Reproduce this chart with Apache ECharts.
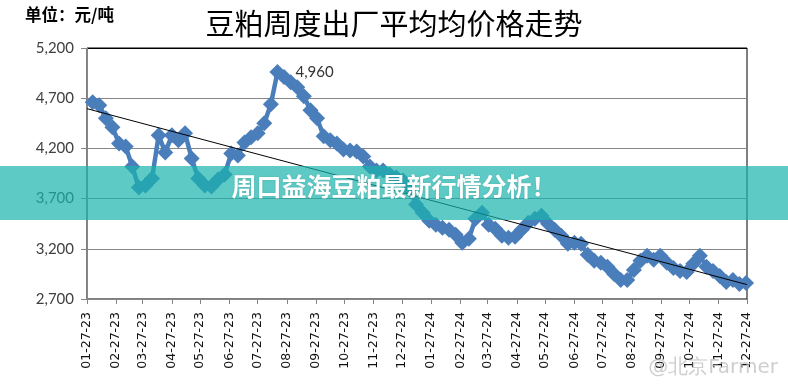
<!DOCTYPE html>
<html>
<head>
<meta charset="utf-8">
<script src="https://cdn.jsdelivr.net/npm/echarts@6/dist/echarts.min.js"></script>
<style>
html,body{margin:0;padding:0;background:#fff;}
#c{width:788px;height:387px;}
</style>
</head>
<body>
<div id="c"></div>
<script>
const titleText = '豆粕周度出厂平均均价格走势';
const unitText = '单位：元/吨';
const bannerText = '周口益海豆粕最新行情分析！';
const watermarkText = '@北京Farmer';

const tickLabels = ['01-27-23','02-27-23','03-27-23','04-27-23','05-27-23','06-27-23',
  '07-27-23','08-27-23','09-27-23','10-27-23','11-27-23','12-27-23',
  '01-27-24','02-27-24','03-27-24','04-27-24','05-27-24','06-27-24',
  '07-27-24','08-27-24','09-27-24','10-27-24','11-27-24','12-27-24'];
const yTicks = [2700, 3200, 3700, 4200, 4700, 5200];

// weekly prices (元/吨), first week 2023-02-02
const firstWeek = '2023-02-02';
const prices = [
  4660,4630,4500,4410,4250,4220,4020,3810,3830,3900,
  4330,4160,4330,4280,4350,4100,3900,3830,3820,3890,
  3940,4150,4130,4260,4310,4350,4450,4640,4960,4910,
  4860,4810,4720,4580,4500,4320,4280,4250,4190,4180,
  4170,4120,4020,3980,3980,3940,3910,3880,3790,3640,
  3560,3480,3440,3410,3390,3340,3260,3300,3500,3560,
  3440,3400,3330,3310,3320,3390,3460,3500,3530,3450,
  3390,3330,3250,3260,3250,3140,3080,3060,3020,2950,
  2890,2890,2990,3080,3130,3090,3130,3060,3010,2980,
  2970,3050,3130,3020,2980,2930,2870,2890,2850,2860
];

const DAY = 86400000;
function parseMDY(s){const p=s.split('-');return Date.UTC(2000+(+p[2]),(+p[0])-1,+p[1])/DAY;}
const t0 = Date.parse(firstWeek+'T00:00:00Z')/DAY;
const tickDays = tickLabels.map(parseMDY);
const maxPrice = Math.max(...prices);
const seriesData = prices.map((v,i)=>{
  const item = {value:[t0+i*7, v]};
  if (v === maxPrice) item.label = {show:true};
  return item;
});

// linear trend (least squares)
const xs = seriesData.map(d=>d.value[0]), ys = prices;
const n = xs.length;
const mx = xs.reduce((a,b)=>a+b,0)/n, my = ys.reduce((a,b)=>a+b,0)/n;
let sxy=0,sxx=0; for(let i=0;i<n;i++){sxy+=(xs[i]-mx)*(ys[i]-my);sxx+=(xs[i]-mx)*(xs[i]-mx);}
const slope = sxy/sxx, icpt = my - slope*mx;
const xMin = tickDays[0], xMax = tickDays[tickDays.length-1];
const trendData = [[xMin, icpt+slope*xMin],[xMax, icpt+slope*xMax]];

const labelMap = {}; tickDays.forEach((t,i)=>labelMap[t]=tickLabels[i]);

const chart = echarts.init(document.getElementById('c'), null, {renderer:'canvas'});
chart.setOption({
  animation:false,
  backgroundColor:'#fff',
  title:{text:titleText,left:'center',top:4,textStyle:{fontFamily:'Noto Sans CJK SC',fontSize:29,fontWeight:'normal',color:'#000'}},
  grid:{left:87,right:41,top:48,bottom:88,show:true,borderColor:'#000',borderWidth:1,backgroundColor:'transparent'},
  xAxis:{
    type:'value',min:xMin,max:xMax,
    axisLine:{lineStyle:{color:'#868686',width:1}},
    axisTick:{show:true,length:5,lineStyle:{color:'#868686'},customValues:tickDays},
    axisLabel:{rotate:90,margin:13,fontFamily:'DejaVu Sans',fontSize:12.5,color:'#111',customValues:tickDays,
      formatter:v=>labelMap[v]||'', hideOverlap:false},
    splitLine:{show:false}
  },
  yAxis:{
    type:'value',min:2700,max:5200,interval:500,
    axisLine:{show:true,lineStyle:{color:'#868686'}},
    axisTick:{show:true,length:6,lineStyle:{color:'#868686'}},
    axisLabel:{margin:13,fontFamily:'Lato',fontSize:15,color:'#404040',
      formatter:v=>v.toLocaleString('en-US')},
    splitLine:{show:true,lineStyle:{color:['#868686','#868686','#868686','#868686','#868686','#000'],width:1}}
  },
  series:[
    {type:'line',data:seriesData,symbol:'diamond',symbolSize:16,
      lineStyle:{color:'#4A7EBB',width:4.5},itemStyle:{color:'#4A7EBB'},
      label:{show:false,position:'right',distance:10,fontFamily:'Lato',fontSize:15,color:'#333',
        formatter:p=>p.value[1].toLocaleString('en-US')},
      z:3},
    {type:'line',data:trendData,symbol:'none',lineStyle:{color:'#000',width:1},z:4,silent:true}
  ],
  graphic:[
    {type:'text',left:25,top:6,z:10,style:{text:unitText,fontFamily:'Noto Sans CJK SC',fontSize:16.5,fontWeight:'bold',fill:'#000'}},
    {type:'rect',left:0,top:166,z:100,shape:{width:788,height:54},style:{fill:'rgba(24,179,172,0.7)'}},
    {type:'text',left:'center',top:174,z:101,style:{text:bannerText,fontFamily:'Noto Sans CJK SC',fontSize:25,fontWeight:'bold',fill:'#fff',
      textShadowColor:'rgba(0,0,0,0.15)',textShadowBlur:2}},
    {type:'text',right:10,top:358,z:101,style:{text:watermarkText,fontFamily:'DejaVu Sans',fontSize:20,fill:'rgba(190,190,190,0.75)'}}
  ]
});
</script>
</body>
</html>
